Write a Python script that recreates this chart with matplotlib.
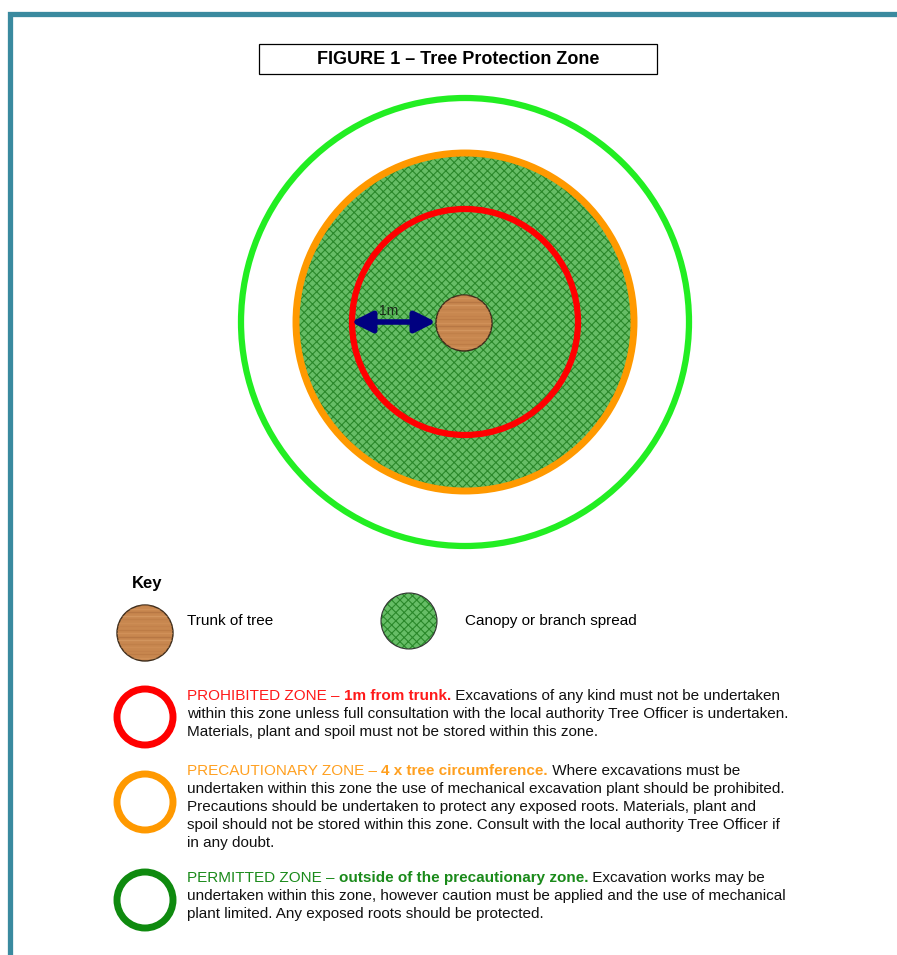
import matplotlib.pyplot as plt
from matplotlib.patches import Circle, Rectangle
import numpy as np

plt.rcParams['font.family'] = ['Liberation Sans', 'DejaVu Sans']
plt.rcParams['hatch.linewidth'] = 0.8

## dados do diagrama ##
title = 'FIGURE 1 \u2013 Tree Protection Zone'
zone_radius = [113, 169, 224]          # prohibited, precautionary, permitted (px)
trunk_radius = 28
zone_colors = ['#ff0000', '#ff9900', '#22ee22']
key_ring_colors = ['#ff0000', '#ff9900', '#0f8a0f']
key_labels = ['Trunk of tree', 'Canopy or branch spread']
zone_heads = [
    ('PROHIBITED ZONE \u2013 ', '1m from trunk.'),
    ('PRECAUTIONARY ZONE \u2013 ', '4 x tree circumference.'),
    ('PERMITTED ZONE \u2013 ', 'outside of the precautionary zone.'),
]
zone_text = [
    [' Excavations of any kind must not be undertaken',
     'within this zone unless full consultation with the local authority Tree Officer is undertaken.',
     'Materials, plant and spoil must not be stored within this zone.'],
    [' Where excavations must be',
     'undertaken within this zone the use of mechanical excavation plant should be prohibited.',
     'Precautions should be undertaken to protect any exposed roots. Materials, plant and',
     'spoil should not be stored within this zone. Consult with the local authority Tree Officer if',
     'in any doubt.'],
    [' Excavation works may be',
     'undertaken within this zone, however caution must be applied and the use of mechanical',
     'plant limited. Any exposed roots should be protected.'],
]
head_colors = ['#ff1a1a', '#ffa020', '#1a8a1a']

fig = plt.figure(figsize=(8.97, 9.55), dpi=100)
ax = fig.add_axes([0, 0, 1, 1])
ax.set_xlim(0, 897)
ax.set_ylim(955, 0)
ax.axis('off')

# moldura
ax.plot([9.5, 9.5, 897], [955, 14.5, 14.5], color='#3a8a9f', lw=3.8,
        solid_joinstyle='miter')

# titulo
ax.add_patch(Rectangle((259, 44), 398, 30, fill=False, ec='black', lw=0.9))
ax.text(458, 59, title, ha='center', va='center', fontsize=13, fontweight='bold')


def trunk(cx, cy, r):
    c = Circle((cx, cy), r, fc='#c8874f', ec='#3a2a1a', lw=1.0, zorder=5)
    ax.add_patch(c)
    tones = ['#b4733f', '#d89a62', '#a8683a', '#dca36e', '#b97a45', '#d2925a', '#c07d48']
    for i, dy in enumerate(np.arange(-r, r, 3.5)):
        ln, = ax.plot([cx - r, cx + r], [cy + dy, cy + dy], color=tones[i % 7],
                      lw=1.0, alpha=0.5, zorder=6)
        ln.set_clip_path(c)


def canopy(cx, cy, r, zo=1):
    ax.add_patch(Circle((cx, cy), r, fc='#66bd66', ec='#2a882a', lw=0,
                        hatch='xxxx', zorder=zo))


# diagrama principal
cx, cy = 465, 322
ax.add_patch(Circle((cx, cy), zone_radius[2], fill=False, ec=zone_colors[2], lw=4.5))
canopy(cx, cy, zone_radius[1])
ax.add_patch(Circle((cx, cy), zone_radius[1], fill=False, ec=zone_colors[1], lw=5, zorder=2))
ax.add_patch(Circle((cx, cy), zone_radius[0], fill=False, ec=zone_colors[0], lw=4.5, zorder=2))
trunk(464, 323, trunk_radius)

ax.annotate('', xy=(cx - zone_radius[0] - 1, 322), xytext=(436, 322),
            arrowprops=dict(arrowstyle='<|-|>,head_length=0.9,head_width=0.45',
                            color='#000080', lw=4, mutation_scale=14,
                            shrinkA=0, shrinkB=0), zorder=4)
ax.text(389, 311, '1m', ha='center', va='center', fontsize=10, color='#1a2a1a',
        zorder=7)

# legenda
ax.text(132, 583, 'Key', ha='left', va='center', fontsize=12, fontweight='bold')
trunk(145, 633, 28)
ax.text(187, 621, key_labels[0], ha='left', va='center', fontsize=11)
canopy(409, 621, 28)
ax.add_patch(Circle((409, 621), 28, fill=False, ec='#333333', lw=0.8))
ax.text(465, 621, key_labels[1], ha='left', va='center', fontsize=11)

ring_y = [717, 802, 900]
text_y0 = [696, 771, 878]
line_h = 18
for k in range(3):
    ax.add_patch(Circle((145, ring_y[k]), 28, fill=False, ec=key_ring_colors[k], lw=5))
    y0 = text_y0[k]
    t = ax.text(187, y0, zone_heads[k][0], color=head_colors[k], fontsize=11,
                ha='left', va='center')
    t = ax.annotate(zone_heads[k][1], xy=(1, 0), xycoords=t, va='bottom', ha='left',
                    color=head_colors[k], fontsize=11, fontweight='bold')
    ax.annotate(zone_text[k][0], xy=(1, 0), xycoords=t, va='bottom', ha='left',
                color='#111111', fontsize=11)
    for j, line in enumerate(zone_text[k][1:]):
        ax.text(187, y0 + line_h * (j + 1), line, ha='left', va='center',
                fontsize=11, color='#111111')

plt.savefig('out.png', dpi=100)
